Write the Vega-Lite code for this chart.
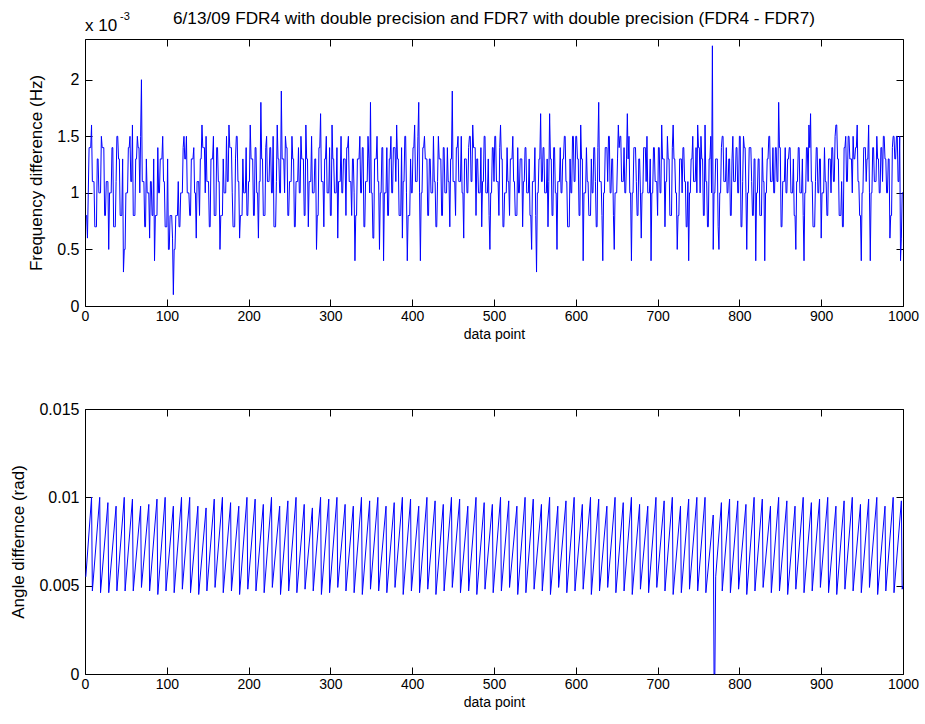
{
  "$schema": "https://vega.github.io/schema/vega-lite/v6.json",
  "background": "white",
  "padding": {"left": 9, "top": 9, "right": 5, "bottom": 5},
  "spacing": 58,
  "config": {
    "view": {"stroke": "#000000", "strokeWidth": 1},
    "axis": {"grid": false, "domain": false, "ticks": true, "tickColor": "#000000", "tickSize": -7, "tickWidth": 1, "labelColor": "#000000", "titleColor": "#000000", "titleFontWeight": "normal", "labelFont": "Liberation Sans", "titleFont": "Liberation Sans", "labelFlush": false},
    "axisX": {"labelFont": "Liberation Sans Narrow, Liberation Sans", "labelFontSize": 14, "titleFont": "Liberation Sans Narrow, Liberation Sans", "titleFontSize": 14, "labelPadding": 10, "titlePadding": 4},
    "axisY": {"labelFontSize": 16, "titleFontSize": 17, "labelPadding": 13, "titlePadding": 11}
  },
  "datasets": {
    "freq": [
{"n":1,"f":0.8},{"n":2,"f":0.8},{"n":3,"f":0.6},{"n":4,"f":1.0},{"n":5,"f":1.4},{"n":6,"f":1.4},{"n":7,"f":1.4},{"n":8,"f":1.6},{"n":9,"f":1.1},{"n":10,"f":1.1},
{"n":11,"f":1.1},{"n":12,"f":0.7},{"n":13,"f":0.7},{"n":14,"f":0.7},{"n":15,"f":1.3},{"n":16,"f":1.3},{"n":17,"f":1.0},{"n":18,"f":1.0},{"n":19,"f":1.0},{"n":20,"f":1.5},
{"n":21,"f":1.4},{"n":22,"f":1.4},{"n":23,"f":1.4},{"n":24,"f":0.8},{"n":25,"f":0.8},{"n":26,"f":1.1},{"n":27,"f":1.1},{"n":28,"f":1.1},{"n":29,"f":0.5},{"n":30,"f":1.0},
{"n":31,"f":1.0},{"n":32,"f":1.0},{"n":33,"f":1.4},{"n":34,"f":1.4},{"n":35,"f":0.7},{"n":36,"f":0.7},{"n":37,"f":0.7},{"n":38,"f":1.1},{"n":39,"f":1.5},{"n":40,"f":1.5},
{"n":41,"f":1.3},{"n":42,"f":1.3},{"n":43,"f":0.8},{"n":44,"f":0.8},{"n":45,"f":0.8},{"n":46,"f":1.3},{"n":47,"f":0.3},{"n":48,"f":0.5},{"n":49,"f":0.5},{"n":50,"f":1.0},
{"n":51,"f":1.0},{"n":52,"f":1.0},{"n":53,"f":1.4},{"n":54,"f":1.4},{"n":55,"f":1.5},{"n":56,"f":1.1},{"n":57,"f":1.1},{"n":58,"f":1.6},{"n":59,"f":0.8},{"n":60,"f":0.8},
{"n":61,"f":0.8},{"n":62,"f":1.3},{"n":63,"f":1.3},{"n":64,"f":1.5},{"n":65,"f":1.4},{"n":66,"f":1.4},{"n":67,"f":1.0},{"n":68,"f":1.5},{"n":69,"f":2.0},{"n":70,"f":1.1},
{"n":71,"f":1.1},{"n":72,"f":1.1},{"n":73,"f":0.7},{"n":74,"f":0.7},{"n":75,"f":1.3},{"n":76,"f":1.0},{"n":77,"f":1.0},{"n":78,"f":1.0},{"n":79,"f":0.6},{"n":80,"f":1.1},
{"n":81,"f":1.1},{"n":82,"f":0.8},{"n":83,"f":0.8},{"n":84,"f":1.3},{"n":85,"f":0.4},{"n":86,"f":0.8},{"n":87,"f":0.8},{"n":88,"f":0.8},{"n":89,"f":1.4},{"n":90,"f":1.0},
{"n":91,"f":1.0},{"n":92,"f":1.3},{"n":93,"f":1.3},{"n":94,"f":1.3},{"n":95,"f":1.5},{"n":96,"f":1.1},{"n":97,"f":1.1},{"n":98,"f":0.7},{"n":99,"f":0.7},{"n":100,"f":0.7},
{"n":101,"f":1.3},{"n":102,"f":0.5},{"n":103,"f":0.5},{"n":104,"f":0.8},{"n":105,"f":0.8},{"n":106,"f":0.8},{"n":107,"f":0.6},{"n":108,"f":0.1},{"n":109,"f":0.5},{"n":110,"f":0.5},
{"n":111,"f":0.8},{"n":112,"f":0.8},{"n":113,"f":0.8},{"n":114,"f":1.1},{"n":115,"f":0.7},{"n":116,"f":0.7},{"n":117,"f":1.0},{"n":118,"f":1.0},{"n":119,"f":1.0},{"n":120,"f":1.4},
{"n":121,"f":1.5},{"n":122,"f":1.3},{"n":123,"f":1.3},{"n":124,"f":1.5},{"n":125,"f":1.0},{"n":126,"f":1.0},{"n":127,"f":1.0},{"n":128,"f":0.8},{"n":129,"f":0.8},{"n":130,"f":1.3},
{"n":131,"f":1.3},{"n":132,"f":1.3},{"n":133,"f":1.4},{"n":134,"f":1.0},{"n":135,"f":1.0},{"n":136,"f":0.6},{"n":137,"f":1.1},{"n":138,"f":1.1},{"n":139,"f":1.1},{"n":140,"f":0.8},
{"n":141,"f":1.3},{"n":142,"f":1.3},{"n":143,"f":1.6},{"n":144,"f":1.4},{"n":145,"f":1.4},{"n":146,"f":1.4},{"n":147,"f":1.0},{"n":148,"f":1.5},{"n":149,"f":1.1},{"n":150,"f":1.1},
{"n":151,"f":1.1},{"n":152,"f":0.7},{"n":153,"f":0.7},{"n":154,"f":1.3},{"n":155,"f":1.3},{"n":156,"f":1.3},{"n":157,"f":1.5},{"n":158,"f":0.8},{"n":159,"f":0.8},{"n":160,"f":0.8},
{"n":161,"f":1.4},{"n":162,"f":1.4},{"n":163,"f":1.1},{"n":164,"f":1.1},{"n":165,"f":0.5},{"n":166,"f":0.8},{"n":167,"f":0.8},{"n":168,"f":0.8},{"n":169,"f":1.3},{"n":170,"f":1.0},
{"n":171,"f":1.0},{"n":172,"f":1.0},{"n":173,"f":1.5},{"n":174,"f":1.1},{"n":175,"f":1.1},{"n":176,"f":1.6},{"n":177,"f":1.4},{"n":178,"f":1.4},{"n":179,"f":1.4},{"n":180,"f":1.0},
{"n":181,"f":0.7},{"n":182,"f":0.7},{"n":183,"f":0.7},{"n":184,"f":1.3},{"n":185,"f":1.5},{"n":186,"f":1.5},{"n":187,"f":1.1},{"n":188,"f":1.1},{"n":189,"f":0.6},{"n":190,"f":0.8},
{"n":191,"f":0.8},{"n":192,"f":0.8},{"n":193,"f":1.3},{"n":194,"f":1.0},{"n":195,"f":1.0},{"n":196,"f":1.0},{"n":197,"f":1.4},{"n":198,"f":0.8},{"n":199,"f":0.8},{"n":200,"f":1.1},
{"n":201,"f":1.1},{"n":202,"f":1.6},{"n":203,"f":1.3},{"n":204,"f":1.3},{"n":205,"f":1.3},{"n":206,"f":0.8},{"n":207,"f":0.8},{"n":208,"f":1.4},{"n":209,"f":1.4},{"n":210,"f":1.0},
{"n":211,"f":1.0},{"n":212,"f":0.6},{"n":213,"f":1.1},{"n":214,"f":1.1},{"n":215,"f":1.8},{"n":216,"f":1.3},{"n":217,"f":1.3},{"n":218,"f":0.8},{"n":219,"f":0.8},{"n":220,"f":0.8},
{"n":221,"f":1.4},{"n":222,"f":1.5},{"n":223,"f":1.1},{"n":224,"f":1.1},{"n":225,"f":1.1},{"n":226,"f":1.4},{"n":227,"f":1.4},{"n":228,"f":1.0},{"n":229,"f":1.0},{"n":230,"f":1.5},
{"n":231,"f":0.7},{"n":232,"f":0.7},{"n":233,"f":0.7},{"n":234,"f":1.1},{"n":235,"f":1.6},{"n":236,"f":1.3},{"n":237,"f":1.3},{"n":238,"f":1.0},{"n":239,"f":1.0},{"n":240,"f":1.9},
{"n":241,"f":1.3},{"n":242,"f":1.3},{"n":243,"f":1.3},{"n":244,"f":1.0},{"n":245,"f":1.5},{"n":246,"f":1.4},{"n":247,"f":1.4},{"n":248,"f":0.8},{"n":249,"f":0.8},{"n":250,"f":1.1},
{"n":251,"f":1.1},{"n":252,"f":1.1},{"n":253,"f":1.5},{"n":254,"f":1.3},{"n":255,"f":1.3},{"n":256,"f":0.7},{"n":257,"f":0.7},{"n":258,"f":1.1},{"n":259,"f":1.1},{"n":260,"f":1.1},
{"n":261,"f":1.4},{"n":262,"f":1.0},{"n":263,"f":1.0},{"n":264,"f":1.5},{"n":265,"f":1.3},{"n":266,"f":1.3},{"n":267,"f":1.3},{"n":268,"f":0.8},{"n":269,"f":0.8},{"n":270,"f":1.6},
{"n":271,"f":1.3},{"n":272,"f":1.3},{"n":273,"f":0.7},{"n":274,"f":1.1},{"n":275,"f":1.1},{"n":276,"f":1.1},{"n":277,"f":1.5},{"n":278,"f":1.0},{"n":279,"f":1.0},{"n":280,"f":1.0},
{"n":281,"f":1.3},{"n":282,"f":1.3},{"n":283,"f":0.5},{"n":284,"f":0.8},{"n":285,"f":0.8},{"n":286,"f":1.4},{"n":287,"f":1.4},{"n":288,"f":1.7},{"n":289,"f":1.1},{"n":290,"f":1.1},
{"n":291,"f":1.1},{"n":292,"f":0.7},{"n":293,"f":1.3},{"n":294,"f":1.3},{"n":295,"f":1.5},{"n":296,"f":1.0},{"n":297,"f":1.0},{"n":298,"f":1.0},{"n":299,"f":1.4},{"n":300,"f":0.8},
{"n":301,"f":0.8},{"n":302,"f":1.6},{"n":303,"f":1.3},{"n":304,"f":1.3},{"n":305,"f":1.0},{"n":306,"f":1.0},{"n":307,"f":1.0},{"n":308,"f":1.4},{"n":309,"f":0.6},{"n":310,"f":1.1},
{"n":311,"f":1.1},{"n":312,"f":1.1},{"n":313,"f":1.5},{"n":314,"f":1.0},{"n":315,"f":1.0},{"n":316,"f":1.3},{"n":317,"f":1.3},{"n":318,"f":1.3},{"n":319,"f":0.8},{"n":320,"f":1.4},
{"n":321,"f":1.4},{"n":322,"f":1.5},{"n":323,"f":1.1},{"n":324,"f":1.1},{"n":325,"f":1.1},{"n":326,"f":0.8},{"n":327,"f":1.3},{"n":328,"f":1.3},{"n":329,"f":1.0},{"n":330,"f":0.4},
{"n":331,"f":0.8},{"n":332,"f":0.8},{"n":333,"f":1.3},{"n":334,"f":1.3},{"n":335,"f":1.3},{"n":336,"f":1.5},{"n":337,"f":1.0},{"n":338,"f":1.0},{"n":339,"f":1.4},{"n":340,"f":1.4},
{"n":341,"f":0.7},{"n":342,"f":0.7},{"n":343,"f":1.1},{"n":344,"f":1.1},{"n":345,"f":1.1},{"n":346,"f":1.5},{"n":347,"f":1.3},{"n":348,"f":1.0},{"n":349,"f":1.8},{"n":350,"f":1.0},
{"n":351,"f":1.0},{"n":352,"f":0.6},{"n":353,"f":0.6},{"n":354,"f":1.3},{"n":355,"f":1.3},{"n":356,"f":1.3},{"n":357,"f":1.5},{"n":358,"f":1.1},{"n":359,"f":1.1},{"n":360,"f":0.5},
{"n":361,"f":1.0},{"n":362,"f":1.0},{"n":363,"f":1.4},{"n":364,"f":1.4},{"n":365,"f":0.4},{"n":366,"f":1.0},{"n":367,"f":1.0},{"n":368,"f":1.0},{"n":369,"f":1.4},{"n":370,"f":0.8},
{"n":371,"f":0.8},{"n":372,"f":1.3},{"n":373,"f":1.3},{"n":374,"f":1.5},{"n":375,"f":1.0},{"n":376,"f":1.0},{"n":377,"f":1.4},{"n":378,"f":1.4},{"n":379,"f":1.4},{"n":380,"f":1.1},
{"n":381,"f":1.6},{"n":382,"f":1.3},{"n":383,"f":1.3},{"n":384,"f":0.8},{"n":385,"f":0.8},{"n":386,"f":0.8},{"n":387,"f":1.4},{"n":388,"f":0.6},{"n":389,"f":1.1},{"n":390,"f":1.1},
{"n":391,"f":1.5},{"n":392,"f":1.5},{"n":393,"f":1.0},{"n":394,"f":0.4},{"n":395,"f":0.8},{"n":396,"f":0.8},{"n":397,"f":0.8},{"n":398,"f":1.3},{"n":399,"f":1.0},{"n":400,"f":1.0},
{"n":401,"f":1.4},{"n":402,"f":1.4},{"n":403,"f":1.6},{"n":404,"f":1.1},{"n":405,"f":1.1},{"n":406,"f":1.1},{"n":407,"f":1.5},{"n":408,"f":1.8},{"n":409,"f":1.0},{"n":410,"f":0.4},
{"n":411,"f":1.0},{"n":412,"f":1.0},{"n":413,"f":1.4},{"n":414,"f":1.4},{"n":415,"f":1.5},{"n":416,"f":1.3},{"n":417,"f":1.3},{"n":418,"f":1.3},{"n":419,"f":0.8},{"n":420,"f":0.8},
{"n":421,"f":1.3},{"n":422,"f":1.3},{"n":423,"f":1.0},{"n":424,"f":1.0},{"n":425,"f":1.0},{"n":426,"f":1.5},{"n":427,"f":1.1},{"n":428,"f":1.1},{"n":429,"f":0.7},{"n":430,"f":0.7},
{"n":431,"f":1.1},{"n":432,"f":1.5},{"n":433,"f":1.3},{"n":434,"f":1.3},{"n":435,"f":1.3},{"n":436,"f":0.8},{"n":437,"f":0.8},{"n":438,"f":1.4},{"n":439,"f":1.4},{"n":440,"f":1.0},
{"n":441,"f":1.0},{"n":442,"f":1.0},{"n":443,"f":1.4},{"n":444,"f":1.1},{"n":445,"f":1.1},{"n":446,"f":0.7},{"n":447,"f":1.3},{"n":448,"f":1.3},{"n":449,"f":1.9},{"n":450,"f":1.1},
{"n":451,"f":1.1},{"n":452,"f":1.1},{"n":453,"f":0.8},{"n":454,"f":1.4},{"n":455,"f":1.4},{"n":456,"f":1.5},{"n":457,"f":1.1},{"n":458,"f":1.1},{"n":459,"f":1.1},{"n":460,"f":1.5},
{"n":461,"f":1.0},{"n":462,"f":1.0},{"n":463,"f":0.6},{"n":464,"f":1.3},{"n":465,"f":1.3},{"n":466,"f":1.3},{"n":467,"f":1.0},{"n":468,"f":1.0},{"n":469,"f":1.4},{"n":470,"f":1.5},
{"n":471,"f":1.5},{"n":472,"f":1.1},{"n":473,"f":1.1},{"n":474,"f":1.6},{"n":475,"f":1.4},{"n":476,"f":1.4},{"n":477,"f":1.4},{"n":478,"f":0.8},{"n":479,"f":1.3},{"n":480,"f":1.3},
{"n":481,"f":1.0},{"n":482,"f":1.0},{"n":483,"f":1.0},{"n":484,"f":1.4},{"n":485,"f":0.7},{"n":486,"f":1.1},{"n":487,"f":1.1},{"n":488,"f":1.5},{"n":489,"f":1.5},{"n":490,"f":1.0},
{"n":491,"f":1.0},{"n":492,"f":1.0},{"n":493,"f":1.3},{"n":494,"f":0.8},{"n":495,"f":0.5},{"n":496,"f":1.0},{"n":497,"f":1.0},{"n":498,"f":1.4},{"n":499,"f":1.4},{"n":500,"f":1.1},
{"n":501,"f":1.5},{"n":502,"f":1.5},{"n":503,"f":1.1},{"n":504,"f":1.1},{"n":505,"f":1.1},{"n":506,"f":0.8},{"n":507,"f":1.4},{"n":508,"f":1.6},{"n":509,"f":1.3},{"n":510,"f":1.3},
{"n":511,"f":0.7},{"n":512,"f":0.7},{"n":513,"f":1.0},{"n":514,"f":1.0},{"n":515,"f":1.0},{"n":516,"f":1.4},{"n":517,"f":1.1},{"n":518,"f":1.1},{"n":519,"f":0.8},{"n":520,"f":1.3},
{"n":521,"f":1.3},{"n":522,"f":1.3},{"n":523,"f":1.5},{"n":524,"f":1.1},{"n":525,"f":1.1},{"n":526,"f":0.8},{"n":527,"f":0.8},{"n":528,"f":0.8},{"n":529,"f":1.4},{"n":530,"f":1.0},
{"n":531,"f":1.0},{"n":532,"f":1.3},{"n":533,"f":1.3},{"n":534,"f":1.3},{"n":535,"f":0.7},{"n":536,"f":1.1},{"n":537,"f":1.1},{"n":538,"f":1.4},{"n":539,"f":1.4},{"n":540,"f":1.0},
{"n":541,"f":1.0},{"n":542,"f":1.0},{"n":543,"f":1.3},{"n":544,"f":0.8},{"n":545,"f":0.8},{"n":546,"f":0.5},{"n":547,"f":1.1},{"n":548,"f":1.1},{"n":549,"f":1.1},{"n":550,"f":1.4},
{"n":551,"f":0.8},{"n":552,"f":0.3},{"n":553,"f":1.0},{"n":554,"f":1.0},{"n":555,"f":1.3},{"n":556,"f":1.3},{"n":557,"f":1.7},{"n":558,"f":1.1},{"n":559,"f":1.1},{"n":560,"f":1.4},
{"n":561,"f":1.4},{"n":562,"f":1.0},{"n":563,"f":1.0},{"n":564,"f":1.0},{"n":565,"f":1.3},{"n":566,"f":0.7},{"n":567,"f":1.1},{"n":568,"f":1.7},{"n":569,"f":1.3},{"n":570,"f":1.3},
{"n":571,"f":0.8},{"n":572,"f":0.8},{"n":573,"f":1.4},{"n":574,"f":1.4},{"n":575,"f":1.0},{"n":576,"f":1.0},{"n":577,"f":0.5},{"n":578,"f":1.1},{"n":579,"f":1.1},{"n":580,"f":1.1},
{"n":581,"f":1.4},{"n":582,"f":1.0},{"n":583,"f":1.0},{"n":584,"f":1.3},{"n":585,"f":1.3},{"n":586,"f":1.5},{"n":587,"f":1.5},{"n":588,"f":1.1},{"n":589,"f":1.1},{"n":590,"f":0.7},
{"n":591,"f":0.7},{"n":592,"f":0.7},{"n":593,"f":1.3},{"n":594,"f":1.0},{"n":595,"f":1.0},{"n":596,"f":1.5},{"n":597,"f":1.5},{"n":598,"f":1.1},{"n":599,"f":1.1},{"n":600,"f":1.5},
{"n":601,"f":1.5},{"n":602,"f":1.3},{"n":603,"f":1.3},{"n":604,"f":0.8},{"n":605,"f":0.8},{"n":606,"f":1.6},{"n":607,"f":1.3},{"n":608,"f":1.3},{"n":609,"f":0.4},{"n":610,"f":1.0},
{"n":611,"f":1.0},{"n":612,"f":1.0},{"n":613,"f":1.4},{"n":614,"f":1.1},{"n":615,"f":1.1},{"n":616,"f":0.8},{"n":617,"f":0.8},{"n":618,"f":0.8},{"n":619,"f":1.3},{"n":620,"f":1.0},
{"n":621,"f":1.0},{"n":622,"f":1.4},{"n":623,"f":1.4},{"n":624,"f":1.1},{"n":625,"f":0.7},{"n":626,"f":0.7},{"n":627,"f":1.4},{"n":628,"f":1.8},{"n":629,"f":1.1},{"n":630,"f":1.1},
{"n":631,"f":1.1},{"n":632,"f":0.8},{"n":633,"f":0.4},{"n":634,"f":1.0},{"n":635,"f":1.0},{"n":636,"f":1.4},{"n":637,"f":1.4},{"n":638,"f":1.4},{"n":639,"f":1.1},{"n":640,"f":1.5},
{"n":641,"f":1.5},{"n":642,"f":1.0},{"n":643,"f":1.0},{"n":644,"f":1.3},{"n":645,"f":1.3},{"n":646,"f":0.8},{"n":647,"f":0.5},{"n":648,"f":1.0},{"n":649,"f":1.0},{"n":650,"f":1.0},
{"n":651,"f":1.3},{"n":652,"f":1.6},{"n":653,"f":1.4},{"n":654,"f":1.5},{"n":655,"f":1.5},{"n":656,"f":1.1},{"n":657,"f":1.1},{"n":658,"f":1.1},{"n":659,"f":1.4},{"n":660,"f":1.0},
{"n":661,"f":1.0},{"n":662,"f":1.3},{"n":663,"f":1.7},{"n":664,"f":1.3},{"n":665,"f":1.5},{"n":666,"f":1.0},{"n":667,"f":1.0},{"n":668,"f":0.4},{"n":669,"f":1.0},{"n":670,"f":1.0},
{"n":671,"f":1.4},{"n":672,"f":1.4},{"n":673,"f":1.4},{"n":674,"f":1.1},{"n":675,"f":0.8},{"n":676,"f":0.8},{"n":677,"f":1.3},{"n":678,"f":1.3},{"n":679,"f":1.0},{"n":680,"f":0.6},
{"n":681,"f":1.0},{"n":682,"f":1.0},{"n":683,"f":1.4},{"n":684,"f":1.4},{"n":685,"f":1.4},{"n":686,"f":1.1},{"n":687,"f":1.5},{"n":688,"f":1.0},{"n":689,"f":1.0},{"n":690,"f":1.0},
{"n":691,"f":1.3},{"n":692,"f":0.4},{"n":693,"f":1.0},{"n":694,"f":1.0},{"n":695,"f":1.4},{"n":696,"f":1.4},{"n":697,"f":1.1},{"n":698,"f":1.1},{"n":699,"f":1.1},{"n":700,"f":0.8},
{"n":701,"f":1.4},{"n":702,"f":1.4},{"n":703,"f":1.0},{"n":704,"f":1.0},{"n":705,"f":1.6},{"n":706,"f":1.3},{"n":707,"f":1.3},{"n":708,"f":1.3},{"n":709,"f":0.7},{"n":710,"f":1.1},
{"n":711,"f":1.1},{"n":712,"f":1.5},{"n":713,"f":1.3},{"n":714,"f":1.3},{"n":715,"f":0.8},{"n":716,"f":0.8},{"n":717,"f":0.8},{"n":718,"f":1.4},{"n":719,"f":1.6},{"n":720,"f":1.3},
{"n":721,"f":1.3},{"n":722,"f":1.0},{"n":723,"f":1.0},{"n":724,"f":0.5},{"n":725,"f":0.8},{"n":726,"f":0.8},{"n":727,"f":1.3},{"n":728,"f":1.3},{"n":729,"f":1.3},{"n":730,"f":1.0},
{"n":731,"f":1.4},{"n":732,"f":1.4},{"n":733,"f":1.1},{"n":734,"f":1.1},{"n":735,"f":0.7},{"n":736,"f":0.7},{"n":737,"f":1.1},{"n":738,"f":0.4},{"n":739,"f":1.0},{"n":740,"f":1.0},
{"n":741,"f":1.3},{"n":742,"f":1.3},{"n":743,"f":1.5},{"n":744,"f":1.1},{"n":745,"f":1.1},{"n":746,"f":1.1},{"n":747,"f":1.4},{"n":748,"f":1.0},{"n":749,"f":1.6},{"n":750,"f":1.4},
{"n":751,"f":1.4},{"n":752,"f":1.0},{"n":753,"f":1.5},{"n":754,"f":1.3},{"n":755,"f":1.3},{"n":756,"f":0.8},{"n":757,"f":0.8},{"n":758,"f":1.6},{"n":759,"f":1.1},{"n":760,"f":1.1},
{"n":761,"f":0.7},{"n":762,"f":0.7},{"n":763,"f":1.3},{"n":764,"f":1.3},{"n":765,"f":1.5},{"n":766,"f":1.0},{"n":767,"f":2.3},{"n":768,"f":0.5},{"n":769,"f":1.0},{"n":770,"f":1.0},
{"n":771,"f":1.3},{"n":772,"f":1.3},{"n":773,"f":1.3},{"n":774,"f":0.7},{"n":775,"f":0.5},{"n":776,"f":1.0},{"n":777,"f":1.0},{"n":778,"f":1.4},{"n":779,"f":1.5},{"n":780,"f":1.5},
{"n":781,"f":1.1},{"n":782,"f":1.1},{"n":783,"f":1.1},{"n":784,"f":1.4},{"n":785,"f":1.0},{"n":786,"f":1.0},{"n":787,"f":1.3},{"n":788,"f":1.3},{"n":789,"f":0.8},{"n":790,"f":0.8},
{"n":791,"f":1.3},{"n":792,"f":1.5},{"n":793,"f":1.1},{"n":794,"f":1.1},{"n":795,"f":1.1},{"n":796,"f":1.4},{"n":797,"f":1.4},{"n":798,"f":1.0},{"n":799,"f":1.0},{"n":800,"f":1.5},
{"n":801,"f":1.5},{"n":802,"f":0.7},{"n":803,"f":0.7},{"n":804,"f":1.1},{"n":805,"f":1.5},{"n":806,"f":1.4},{"n":807,"f":1.4},{"n":808,"f":1.0},{"n":809,"f":0.5},{"n":810,"f":1.0},
{"n":811,"f":1.0},{"n":812,"f":1.4},{"n":813,"f":1.4},{"n":814,"f":1.4},{"n":815,"f":1.1},{"n":816,"f":0.8},{"n":817,"f":0.8},{"n":818,"f":1.3},{"n":819,"f":1.3},{"n":820,"f":0.4},
{"n":821,"f":1.0},{"n":822,"f":1.0},{"n":823,"f":1.3},{"n":824,"f":1.3},{"n":825,"f":0.8},{"n":826,"f":0.8},{"n":827,"f":0.8},{"n":828,"f":1.4},{"n":829,"f":1.1},{"n":830,"f":1.1},
{"n":831,"f":0.4},{"n":832,"f":1.0},{"n":833,"f":1.0},{"n":834,"f":1.3},{"n":835,"f":1.3},{"n":836,"f":1.5},{"n":837,"f":1.5},{"n":838,"f":1.1},{"n":839,"f":1.1},{"n":840,"f":1.1},
{"n":841,"f":1.4},{"n":842,"f":1.0},{"n":843,"f":1.0},{"n":844,"f":1.4},{"n":845,"f":1.4},{"n":846,"f":1.1},{"n":847,"f":1.1},{"n":848,"f":1.8},{"n":849,"f":1.4},{"n":850,"f":1.4},
{"n":851,"f":0.7},{"n":852,"f":0.7},{"n":853,"f":1.1},{"n":854,"f":1.1},{"n":855,"f":1.1},{"n":856,"f":1.4},{"n":857,"f":1.0},{"n":858,"f":1.0},{"n":859,"f":1.3},{"n":860,"f":1.3},
{"n":861,"f":1.4},{"n":862,"f":1.4},{"n":863,"f":1.0},{"n":864,"f":1.0},{"n":865,"f":1.0},{"n":866,"f":1.3},{"n":867,"f":0.8},{"n":868,"f":0.8},{"n":869,"f":0.5},{"n":870,"f":1.1},
{"n":871,"f":1.1},{"n":872,"f":1.4},{"n":873,"f":1.4},{"n":874,"f":1.0},{"n":875,"f":1.0},{"n":876,"f":1.0},{"n":877,"f":1.3},{"n":878,"f":0.8},{"n":879,"f":0.4},{"n":880,"f":1.0},
{"n":881,"f":1.0},{"n":882,"f":1.4},{"n":883,"f":1.4},{"n":884,"f":1.1},{"n":885,"f":1.6},{"n":886,"f":1.4},{"n":887,"f":1.7},{"n":888,"f":1.1},{"n":889,"f":1.1},{"n":890,"f":0.7},
{"n":891,"f":0.7},{"n":892,"f":0.7},{"n":893,"f":1.1},{"n":894,"f":1.4},{"n":895,"f":1.4},{"n":896,"f":1.0},{"n":897,"f":1.0},{"n":898,"f":1.3},{"n":899,"f":1.3},{"n":900,"f":0.6},
{"n":901,"f":1.0},{"n":902,"f":1.0},{"n":903,"f":1.0},{"n":904,"f":1.4},{"n":905,"f":1.1},{"n":906,"f":1.1},{"n":907,"f":0.8},{"n":908,"f":0.8},{"n":909,"f":1.3},{"n":910,"f":1.3},
{"n":911,"f":1.3},{"n":912,"f":1.0},{"n":913,"f":1.4},{"n":914,"f":1.4},{"n":915,"f":1.1},{"n":916,"f":1.1},{"n":917,"f":1.5},{"n":918,"f":1.6},{"n":919,"f":1.6},{"n":920,"f":1.3},
{"n":921,"f":1.3},{"n":922,"f":0.8},{"n":923,"f":0.8},{"n":924,"f":0.8},{"n":925,"f":1.1},{"n":926,"f":0.7},{"n":927,"f":0.7},{"n":928,"f":1.4},{"n":929,"f":1.4},{"n":930,"f":1.5},
{"n":931,"f":1.1},{"n":932,"f":1.1},{"n":933,"f":1.5},{"n":934,"f":1.5},{"n":935,"f":1.3},{"n":936,"f":1.3},{"n":937,"f":1.3},{"n":938,"f":1.0},{"n":939,"f":1.5},{"n":940,"f":1.3},
{"n":941,"f":1.3},{"n":942,"f":1.4},{"n":943,"f":1.4},{"n":944,"f":1.6},{"n":945,"f":1.1},{"n":946,"f":1.1},{"n":947,"f":0.8},{"n":948,"f":0.8},{"n":949,"f":0.4},{"n":950,"f":1.0},
{"n":951,"f":1.0},{"n":952,"f":1.4},{"n":953,"f":1.4},{"n":954,"f":1.4},{"n":955,"f":1.1},{"n":956,"f":1.3},{"n":957,"f":1.3},{"n":958,"f":1.6},{"n":959,"f":1.0},{"n":960,"f":0.4},
{"n":961,"f":1.0},{"n":962,"f":1.0},{"n":963,"f":1.4},{"n":964,"f":1.4},{"n":965,"f":1.1},{"n":966,"f":1.1},{"n":967,"f":1.1},{"n":968,"f":1.5},{"n":969,"f":1.3},{"n":970,"f":1.3},
{"n":971,"f":1.0},{"n":972,"f":1.0},{"n":973,"f":1.4},{"n":974,"f":1.4},{"n":975,"f":1.1},{"n":976,"f":1.5},{"n":977,"f":1.5},{"n":978,"f":1.3},{"n":979,"f":1.3},{"n":980,"f":1.0},
{"n":981,"f":1.0},{"n":982,"f":1.3},{"n":983,"f":1.3},{"n":984,"f":0.6},{"n":985,"f":0.8},{"n":986,"f":0.8},{"n":987,"f":1.4},{"n":988,"f":1.5},{"n":989,"f":1.5},{"n":990,"f":1.3},
{"n":991,"f":1.3},{"n":992,"f":1.5},{"n":993,"f":1.5},{"n":994,"f":1.1},{"n":995,"f":1.1},{"n":996,"f":1.5},{"n":997,"f":0.4},{"n":998,"f":0.6},{"n":999,"f":1.0},{"n":1000,"f":1.0}
    ],
    "angle": [
{"n":1,"a":0.0055},
{"n":8,"a":0.0100},{"n":9,"a":0.0047},{"n":18,"a":0.0100},{"n":19,"a":0.0046},{"n":28,"a":0.0097},{"n":29,"a":0.0046},{"n":38,"a":0.0095},{"n":39,"a":0.0047},{"n":48,"a":0.0100},{"n":49,"a":0.0047},
{"n":58,"a":0.0099},{"n":59,"a":0.0047},{"n":68,"a":0.0095},{"n":69,"a":0.0049},{"n":78,"a":0.0096},{"n":79,"a":0.0047},{"n":88,"a":0.0099},{"n":89,"a":0.0045},{"n":98,"a":0.0100},{"n":99,"a":0.0047},
{"n":108,"a":0.0095},{"n":109,"a":0.0046},{"n":118,"a":0.0100},{"n":119,"a":0.0048},{"n":128,"a":0.0100},{"n":129,"a":0.0046},{"n":138,"a":0.0095},{"n":139,"a":0.0045},{"n":148,"a":0.0094},{"n":149,"a":0.0047},
{"n":158,"a":0.0099},{"n":159,"a":0.0049},{"n":168,"a":0.0100},{"n":169,"a":0.0046},{"n":178,"a":0.0097},{"n":179,"a":0.0047},{"n":188,"a":0.0095},{"n":189,"a":0.0045},{"n":198,"a":0.0100},{"n":199,"a":0.0048},
{"n":208,"a":0.0099},{"n":209,"a":0.0047},{"n":218,"a":0.0096},{"n":219,"a":0.0046},{"n":228,"a":0.0100},{"n":229,"a":0.0049},{"n":238,"a":0.0095},{"n":239,"a":0.0045},{"n":248,"a":0.0098},{"n":249,"a":0.0047},
{"n":258,"a":0.0100},{"n":259,"a":0.0046},{"n":268,"a":0.0096},{"n":269,"a":0.0048},{"n":278,"a":0.0094},{"n":279,"a":0.0047},{"n":288,"a":0.0100},{"n":289,"a":0.0045},{"n":298,"a":0.0099},{"n":299,"a":0.0046},
{"n":308,"a":0.0100},{"n":309,"a":0.0049},{"n":318,"a":0.0096},{"n":319,"a":0.0047},{"n":328,"a":0.0095},{"n":329,"a":0.0046},{"n":338,"a":0.0100},{"n":339,"a":0.0045},{"n":348,"a":0.0098},{"n":349,"a":0.0048},
{"n":358,"a":0.0100},{"n":359,"a":0.0047},{"n":368,"a":0.0095},{"n":369,"a":0.0046},{"n":378,"a":0.0097},{"n":379,"a":0.0049},{"n":388,"a":0.0100},{"n":389,"a":0.0045},{"n":398,"a":0.0099},{"n":399,"a":0.0047},
{"n":408,"a":0.0095},{"n":409,"a":0.0046},{"n":418,"a":0.0100},{"n":419,"a":0.0048},{"n":428,"a":0.0098},{"n":429,"a":0.0045},{"n":438,"a":0.0096},{"n":439,"a":0.0047},{"n":448,"a":0.0100},{"n":449,"a":0.0049},
{"n":458,"a":0.0099},{"n":459,"a":0.0046},{"n":468,"a":0.0095},{"n":469,"a":0.0047},{"n":478,"a":0.0100},{"n":479,"a":0.0045},{"n":488,"a":0.0097},{"n":489,"a":0.0048},{"n":498,"a":0.0096},{"n":499,"a":0.0046},
{"n":508,"a":0.0100},{"n":509,"a":0.0047},{"n":518,"a":0.0098},{"n":519,"a":0.0049},{"n":528,"a":0.0095},{"n":529,"a":0.0045},{"n":538,"a":0.0100},{"n":539,"a":0.0046},{"n":548,"a":0.0099},{"n":549,"a":0.0048},
{"n":558,"a":0.0096},{"n":559,"a":0.0047},{"n":568,"a":0.0100},{"n":569,"a":0.0045},{"n":578,"a":0.0095},{"n":579,"a":0.0049},{"n":588,"a":0.0098},{"n":589,"a":0.0046},{"n":598,"a":0.0100},{"n":599,"a":0.0047},
{"n":608,"a":0.0096},{"n":609,"a":0.0048},{"n":618,"a":0.0100},{"n":619,"a":0.0045},{"n":628,"a":0.0099},{"n":629,"a":0.0047},{"n":638,"a":0.0095},{"n":639,"a":0.0049},{"n":648,"a":0.0100},{"n":649,"a":0.0046},
{"n":658,"a":0.0097},{"n":659,"a":0.0047},{"n":668,"a":0.0100},{"n":669,"a":0.0045},{"n":678,"a":0.0096},{"n":679,"a":0.0048},{"n":688,"a":0.0095},{"n":689,"a":0.0046},{"n":698,"a":0.0100},{"n":699,"a":0.0049},
{"n":708,"a":0.0098},{"n":709,"a":0.0047},{"n":718,"a":0.0100},{"n":719,"a":0.0045},{"n":728,"a":0.0095},{"n":729,"a":0.0046},{"n":738,"a":0.0099},{"n":739,"a":0.0048},{"n":748,"a":0.0100},{"n":749,"a":0.0047},
{"n":758,"a":0.0100},{"n":759,"a":0.0046},{"n":768,"a":0.0090},{"n":769,"a":0.0},{"n":770,"a":0.0},{"n":771,"a":0.0055},{"n":778,"a":0.0097},{"n":779,"a":0.0047},{"n":788,"a":0.0099},{"n":789,"a":0.0046},{"n":798,"a":0.0098},{"n":799,"a":0.0048},
{"n":808,"a":0.0096},{"n":809,"a":0.0045},{"n":818,"a":0.0100},{"n":819,"a":0.0047},{"n":828,"a":0.0099},{"n":829,"a":0.0049},{"n":838,"a":0.0095},{"n":839,"a":0.0046},{"n":848,"a":0.0100},{"n":849,"a":0.0047},
{"n":858,"a":0.0098},{"n":859,"a":0.0045},{"n":868,"a":0.0095},{"n":869,"a":0.0048},{"n":878,"a":0.0100},{"n":879,"a":0.0046},{"n":888,"a":0.0097},{"n":889,"a":0.0047},{"n":898,"a":0.0099},{"n":899,"a":0.0049},
{"n":908,"a":0.0100},{"n":909,"a":0.0046},{"n":918,"a":0.0095},{"n":919,"a":0.0045},{"n":928,"a":0.0098},{"n":929,"a":0.0048},{"n":938,"a":0.0100},{"n":939,"a":0.0047},{"n":948,"a":0.0096},{"n":949,"a":0.0046},
{"n":958,"a":0.0099},{"n":959,"a":0.0049},{"n":968,"a":0.0100},{"n":969,"a":0.0045},{"n":978,"a":0.0095},{"n":979,"a":0.0047},{"n":988,"a":0.0100},{"n":989,"a":0.0046},{"n":998,"a":0.0098},{"n":999,"a":0.0048},
{"n":1000,"a":0.0050}
    ]
  },
  "vconcat": [
    {
      "width": 818,
      "height": 267,
      "title": {"text": "6/13/09 FDR4 with double precision and FDR7 with double precision (FDR4 - FDR7)", "font": "Liberation Sans", "fontSize": 17.2, "fontWeight": "normal", "color": "#000000", "anchor": "middle", "frame": "group", "offset": -16},
      "layer": [
        {
          "data": {"name": "freq"},
          "mark": {"type": "line", "color": "#0000ff", "strokeWidth": 1},
          "encoding": {
            "x": {"field": "n", "type": "quantitative", "scale": {"domain": [0, 1000], "nice": false}, "axis": {"values": [0, 100, 200, 300, 400, 500, 600, 700, 800, 900, 1000], "format": "d", "title": "data point"}},
            "y": {"field": "f", "type": "quantitative", "scale": {"domain": [0, 2.36], "nice": false, "zero": false}, "axis": {"values": [0, 0.5, 1, 1.5, 2], "labelExpr": "'' + datum.value", "title": "Frequency difference (Hz)"}}
          }
        },
        {
          "data": {"name": "freq"},
          "mark": {"type": "line", "opacity": 0},
          "encoding": {
            "x": {"field": "n", "type": "quantitative", "scale": {"domain": [0, 1000], "nice": false}, "axis": {"orient": "top", "values": [0, 100, 200, 300, 400, 500, 600, 700, 800, 900, 1000], "labels": false, "title": null}},
            "y": {"field": "f", "type": "quantitative", "scale": {"domain": [0, 2.36], "nice": false, "zero": false}, "axis": {"orient": "right", "values": [0, 0.5, 1, 1.5, 2], "labels": false, "title": null}}
          }
        },
        {
          "data": {"values": [{}]},
          "mark": {"type": "text", "text": "x 10", "align": "left", "baseline": "alphabetic", "font": "Liberation Sans", "fontSize": 17, "color": "#000000", "dy": -8},
          "encoding": {
            "x": {"datum": 0, "type": "quantitative", "axis": null},
            "y": {"datum": 2.36, "type": "quantitative", "axis": null}
          }
        },
        {
          "data": {"values": [{}]},
          "mark": {"type": "text", "text": "-3", "align": "left", "baseline": "alphabetic", "font": "Liberation Sans", "fontSize": 11, "color": "#000000", "dx": 35, "dy": -19},
          "encoding": {
            "x": {"datum": 0, "type": "quantitative", "axis": null},
            "y": {"datum": 2.36, "type": "quantitative", "axis": null}
          }
        }
      ],
      "resolve": {"axis": {"x": "independent", "y": "independent"}}
    },
    {
      "width": 818,
      "height": 265,
      "data": {"name": "angle"},
      "layer": [
        {
          "mark": {"type": "line", "color": "#0000ff", "strokeWidth": 1},
          "encoding": {
            "x": {"field": "n", "type": "quantitative", "scale": {"domain": [0, 1000], "nice": false}, "axis": {"values": [0, 100, 200, 300, 400, 500, 600, 700, 800, 900, 1000], "format": "d", "title": "data point"}},
            "y": {"field": "a", "type": "quantitative", "scale": {"domain": [0, 0.015], "nice": false}, "axis": {"values": [0, 0.005, 0.01, 0.015], "labelExpr": "'' + datum.value", "title": "Angle differnce (rad)"}}
          }
        },
        {
          "mark": {"type": "line", "opacity": 0},
          "encoding": {
            "x": {"field": "n", "type": "quantitative", "scale": {"domain": [0, 1000], "nice": false}, "axis": {"orient": "top", "values": [0, 100, 200, 300, 400, 500, 600, 700, 800, 900, 1000], "labels": false, "title": null}},
            "y": {"field": "a", "type": "quantitative", "scale": {"domain": [0, 0.015], "nice": false}, "axis": {"orient": "right", "values": [0, 0.005, 0.01, 0.015], "labels": false, "title": null}}
          }
        }
      ],
      "resolve": {"axis": {"x": "independent", "y": "independent"}}
    }
  ]
}
